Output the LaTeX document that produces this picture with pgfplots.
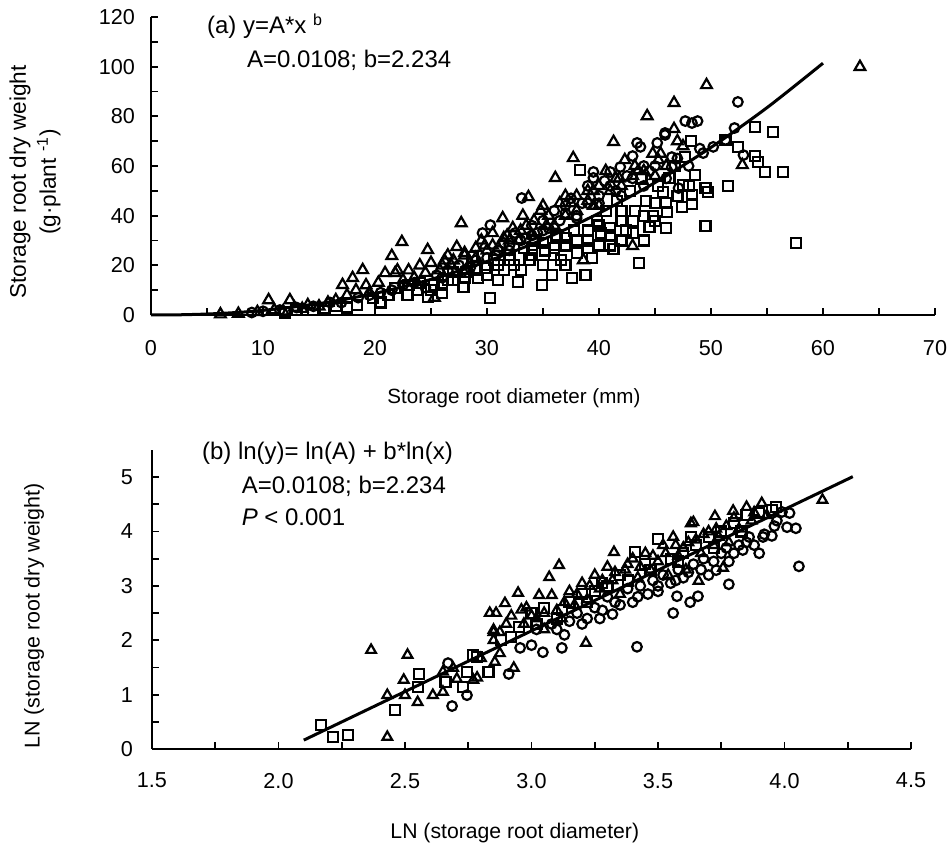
\documentclass[border=0pt]{standalone}
\usepackage{fontspec}
\setmainfont{Liberation Sans}
\usepackage{pgfplots}
\pgfplotsset{compat=1.18}

\pgfplotsset{
  rootaxis/.style={
    scale only axis,
    axis x line*=bottom, axis y line*=left,
    enlargelimits=false, clip=false,
    tick align=inside,
    major tick length=3.5pt, minor tick length=3.5pt,
    axis line style={line width=1.2pt},
    every tick/.style={line width=0.9pt, black},
    minor x tick num=1, minor y tick num=1,
    scaled ticks=false,
    /pgf/number format/assume math mode=true,
    tick label style={font=\fontsize{10.8}{12}\selectfont},
  },
  tri/.style={only marks, mark=triangle, mark size=3.1pt,
    mark options={line width=1.1pt, draw=black, fill=white}},
  cir/.style={only marks, mark=o, mark size=2.4pt,
    mark options={line width=1.1pt, draw=black, fill=white}},
  sqr/.style={only marks, mark=square, mark size=2.5pt,
    mark options={line width=1.1pt, draw=black, fill=white}},
}

\begin{document}
\begin{tikzpicture}
\path[use as bounding box] (-75.5pt,-264.5pt) rectangle (398.5pt,157.5pt);

% (a) power relation
\begin{axis}[rootaxis,
    at={(0,0)}, anchor=south west,
    width=392pt, height=149pt,
    xmin=0, xmax=70, ymin=0, ymax=120,
    xtick={0,10,...,70}, ytick={0,20,...,120},
    xticklabel style={yshift=-9pt},
    yticklabel style={xshift=-4.5pt},
    xlabel={Storage root diameter (mm)},
    every axis x label/.style={at={([yshift=-41.5pt]axis description cs:0.463,0)}, anchor=center, font=\fontsize{10.3}{12}\selectfont},
    ylabel={Storage root dry weight\\(g·plant \textsuperscript{-1})},
    every axis y label/.style={at={([xshift=-58pt]axis description cs:0,0.446)}, anchor=center, rotate=90, align=center, font=\fontsize{11.3}{15}\selectfont},
  ]
  \addplot[tri] coordinates {
    (6.2,0.3) (7.8,0.5) (9.5,1.2) (10.5,6.0) (11,2) (11.8,1.5) (12.4,6.0) (12.8,3)
    (13.5,2.5) (14,4) (15,3.5) (15.8,5) (16.5,6) (17.1,12.1) (17.5,8) (18,14.9)
    (18.3,10) (18.9,18.1) (19.2,12) (19.5,9) (20.3,13) (20.9,16.9) (21.5,23.8)
    (21.8,16.9) (22,18) (22.4,29.4) (22.5,14) (23,18) (23.5,15) (24,20) (24.5,17)
    (24.7,26.2) (25,21) (25.3,7) (25.8,18) (26,20) (26.2,22) (26.5,24) (26.8,20)
    (27,22) (27.3,27.4) (27.7,37.0) (28,24) (28,25) (28.5,21) (29,27) (29,23)
    (29.5,30) (29.8,28) (30,26) (30.5,28) (30.5,33) (31,27) (31.4,39) (31.5,31)
    (31.8,32) (32,30) (32.3,35) (32.8,30) (33,34) (33.2,40) (33.5,36) (33.7,47.5)
    (34,32) (34.2,38) (34.8,42) (35,44) (35.3,36) (35.5,40) (36,36) (36.1,55.2)
    (36.5,45) (37,40) (37,48) (37.5,45) (37.7,63.2) (38,48) (38,42) (38.6,22.1)
    (39,50) (39,46) (39.5,44) (39.5,50) (40,52) (40,44) (40.6,58) (41,50) (41.3,69.7)
    (41.5,55) (41.8,55) (42,52) (42.3,62.4) (43,27.8) (43,56) (43.2,60) (43.5,58)
    (44,58) (44.3,80.1) (44.8,65) (45,56) (45.3,62.4) (45.5,65) (46,60) (46.7,85.4)
    (46.7,74.9) (47,70) (47.5,68) (49.6,92.6) (52.8,60.4) (63.3,99.9)
  };
  \addplot[cir] coordinates {
    (9,1) (10,1.5) (11.5,2) (13,3) (14.5,3.5) (16,5) (17,5) (18.5,7) (19.5,8)
    (20.5,9) (21.5,10) (22.5,12) (23.5,13) (24.5,11) (25.5,16) (26,15) (26.5,18)
    (27.5,20) (28,18) (28.5,19) (29,22) (29.6,33.0) (30,23) (30.3,36.2) (30.8,24)
    (31,26) (31.5,29) (32,26) (32,28) (32.5,33) (33,30) (33.1,47.1) (33.5,31)
    (34,36) (34,32) (34.5,33) (35,38) (35,34) (35.5,35) (36,42) (36,35) (36.5,38)
    (37,44) (37,41) (37.5,47) (38,40) (38,39) (38.5,45) (39,52) (39,45) (39.5,57.6)
    (39.5,55.2) (40,48) (40,45) (40.5,54) (41,57.6) (41,52) (41.5,50) (41.9,59.6)
    (42,48) (42.5,56) (43,64) (43,55) (43.4,69.3) (43.7,67.7) (44,60) (44,52)
    (44.5,58) (45,60) (45.2,69.3) (45.9,73.3) (45.9,72.5) (46,55) (46.5,63.6)
    (46.5,59.6) (47,63) (47.1,51.1) (47.7,78.1) (48,60) (48.3,77.3) (48.8,78.1)
    (49,67) (49.3,65.2) (50.2,67.7) (51.3,70.5) (52.1,75.3) (52.4,85.8) (52.9,64.4)
  };
  \addplot[sqr] coordinates {
    (12,1) (13,2) (14.5,2.0) (15.5,2.8) (16.5,3.5) (17.5,3) (18.4,4.0) (19.8,6.8)
    (20.5,5) (21.2,8) (21.8,10.9) (22.9,8.1) (23,12.1) (23.8,10) (24,13) (24.7,7.3)
    (25,10) (25.3,12) (26,9) (26,12) (26.5,14) (27,17.3) (27,14) (27.9,11.3)
    (28,15) (28.2,17.3) (28.7,23.4) (29,18) (29.2,15) (29.8,19) (30,16) (30,19)
    (30.3,6.8) (30.6,22) (31,14) (31,20) (31.5,18) (32,24) (32,22) (32.4,20)
    (32.8,13.3) (33,18) (33.3,27) (33.8,22) (34,24) (34,27) (34.3,30) (34.9,12.1)
    (35,20) (35,29) (35.2,26) (35.8,16.1) (36,27) (36,24) (36.2,32) (36.6,22)
    (37,28) (37,20) (37,31) (37.6,14.9) (37.8,34) (38,25) (38,30) (38.3,58.4)
    (38.8,16.1) (39,30) (39,34) (39,27) (39.4,23.0) (39.8,38) (40,28) (40,36)
    (40.2,33) (40.6,42) (41,28) (41,35) (41,32) (41.3,26.6) (41.6,46) (42,38)
    (42,30) (42,42) (42.4,34) (42.8,50) (43,38) (43,33) (43.2,42) (43.6,20.9)
    (43.8,55) (44,30) (44,40) (44.2,46) (44.5,35.4) (44.8,40) (45,45) (45,38)
    (45.3,52) (45.7,49.5) (46,35) (46,45) (46.1,41.5) (46.3,55.2) (46.8,60) (47,48)
    (47.4,43.5) (47.5,52.4) (47.7,63.6) (48,52) (48.2,70.1) (48.3,48.3) (48.3,44.7)
    (48.6,56.4) (49.5,51.1) (49.5,35.8) (49.7,49.5) (51.3,70.5) (51.5,52.0)
    (52.4,67.7) (53.9,75.7) (53.9,64.0) (54.2,61.6) (54.8,57.6) (55.5,73.7)
    (56.4,57.6) (57.6,29.0)
  };
  \addplot[black, line width=1.5pt, smooth] coordinates {
    (0,0) (2.5,0.08) (5,0.39) (7.5,0.97) (10,1.85) (15,4.58) (20,8.71) (25,14.34)
    (30,21.56) (35,30.41) (40,40.99) (45,53.32) (50,67.48) (55,83.49) (60,101.4)
  };
  \node[anchor=base west, font=\fontsize{12}{14}\selectfont] at (axis description cs:0.0625,0.943) {(a) y=A*x \textsuperscript{b}};
  \node[anchor=base west, font=\fontsize{12}{14}\selectfont] at (axis description cs:0.1135,0.832) {A=0.0108; b=2.234};
\end{axis}

% (b) log-log relation
\begin{axis}[rootaxis,
    at={(0.5pt,-217pt)}, anchor=south west,
    width=379.5pt, height=149.5pt,
    xmin=1.5, xmax=4.5, ymin=0, ymax=5.5,
    xtick={1.5,2.0,...,4.5}, ytick={0,1,...,5},
    xticklabel style={yshift=-8.5pt, /pgf/number format/.cd, fixed, fixed zerofill, precision=1},
    yticklabel style={xshift=-6pt},
    xlabel={LN (storage root diameter)},
    every axis x label/.style={at={([yshift=-42pt]axis description cs:0.478,0)}, anchor=center, font=\fontsize{10.6}{12}\selectfont},
    ylabel={LN (storage root dry weight)},
    every axis y label/.style={at={([xshift=-59pt]axis description cs:0,0.445)}, anchor=center, rotate=90, font=\fontsize{10.7}{12}\selectfont},
  ]
  \addplot[sqr] coordinates {
    (2.167,0.44) (2.215,0.22) (2.275,0.26) (2.46,0.72) (2.55,1.14) (2.555,1.38)
    (2.66,1.23) (2.73,1.14) (2.745,1.42) (2.77,1.73) (2.785,1.69) (2.83,1.42)
    (2.88,2.0) (2.92,2.06) (2.95,2.25) (3.0,2.5) (3.02,2.3) (3.05,2.6) (3.1,2.4)
    (3.12,2.55) (3.15,2.7) (3.2,2.85) (3.22,2.7) (3.25,2.9) (3.28,3.05) (3.3,3.0)
    (3.35,3.2) (3.38,3.1) (3.41,3.62) (3.45,3.4) (3.47,3.3) (3.5,3.86) (3.55,3.5)
    (3.58,3.45) (3.6,3.6) (3.63,3.9) (3.65,3.75) (3.7,3.9) (3.72,3.7) (3.75,4.0)
    (3.8,4.15) (3.83,4.0) (3.85,4.3) (3.9,4.35) (3.95,4.4) (3.966,4.45)
  };
  \addplot[cir] coordinates {
    (2.67,1.58) (2.686,0.79) (2.745,0.99) (2.91,1.38) (2.955,1.86) (3.0,1.91)
    (3.02,2.2) (3.045,1.78) (3.08,2.3) (3.1,2.2) (3.12,1.86) (3.13,2.10) (3.15,2.35)
    (3.18,2.5) (3.2,2.3) (3.22,2.4) (3.25,2.6) (3.27,2.4) (3.28,2.55) (3.3,2.8)
    (3.32,2.48) (3.33,2.7) (3.35,2.65) (3.38,2.95) (3.4,2.7) (3.417,1.88) (3.42,2.8)
    (3.43,3.0) (3.46,2.85) (3.48,3.1) (3.5,2.9) (3.5,3.0) (3.52,3.2) (3.55,3.05)
    (3.56,2.50) (3.57,3.1) (3.575,2.81) (3.58,3.3) (3.6,3.15) (3.62,3.25)
    (3.627,2.70) (3.64,3.4) (3.658,2.81) (3.67,3.3) (3.68,3.5) (3.7,3.2) (3.72,3.45)
    (3.73,3.29) (3.75,3.6) (3.77,3.7) (3.78,3.03) (3.78,3.45) (3.8,3.6) (3.82,3.75)
    (3.835,3.66) (3.85,3.8) (3.86,3.9) (3.88,3.75) (3.9,3.6) (3.915,3.90) (3.92,3.95)
    (3.95,3.92) (3.96,4.1) (3.97,4.2) (3.99,4.36) (4.01,4.08) (4.02,4.34)
    (4.045,4.06) (4.057,3.36)
  };
  \addplot[tri, mark size=2.8pt] coordinates {
    (2.366,1.82) (2.43,0.22) (2.43,0.99) (2.495,1.27) (2.50,0.99) (2.51,1.73)
    (2.55,0.86) (2.61,0.99) (2.65,1.05) (2.65,1.42) (2.69,1.49) (2.705,1.29)
    (2.77,1.27) (2.785,1.31) (2.80,1.67) (2.835,2.5) (2.85,2.0) (2.85,2.15)
    (2.85,2.19) (2.855,1.60) (2.86,2.5) (2.875,1.76) (2.875,2.15) (2.895,2.68)
    (2.9,2.3) (2.92,2.45) (2.93,1.49) (2.947,2.87) (2.96,2.56) (2.97,2.3) (2.98,2.6)
    (3.0,2.45) (3.02,2.4) (3.03,2.83) (3.05,2.2) (3.05,2.5) (3.07,3.16) (3.08,2.83)
    (3.1,2.55) (3.109,3.38) (3.12,2.4) (3.13,2.7) (3.15,2.9) (3.17,2.65) (3.18,2.85)
    (3.2,3.05) (3.215,1.95) (3.22,2.75) (3.23,3.0) (3.25,3.2) (3.27,2.95) (3.28,3.1)
    (3.3,3.35) (3.32,3.1) (3.326,3.62) (3.33,3.25) (3.35,2.85) (3.37,3.3) (3.38,3.4)
    (3.4,3.5) (3.42,3.15) (3.43,3.35) (3.45,3.6) (3.47,3.3) (3.48,3.55) (3.5,3.45)
    (3.52,3.75) (3.53,3.6) (3.54,3.2) (3.56,3.9) (3.57,3.75) (3.58,3.55) (3.6,3.7)
    (3.61,3.3) (3.62,3.8) (3.63,4.15) (3.64,4.17) (3.65,3.85) (3.66,3.09) (3.67,3.6)
    (3.68,3.95) (3.7,4.0) (3.72,3.75) (3.725,4.28) (3.73,4.05) (3.74,3.9)
    (3.757,3.33) (3.77,4.1) (3.78,3.8) (3.797,4.38) (3.8,4.25) (3.82,4.05)
    (3.85,4.45) (3.87,4.2) (3.88,4.35) (3.91,4.52) (3.93,4.3) (4.15,4.58)
  };
  \addplot[black, line width=1.5pt] coordinates {(2.1,0.163) (4.27,5.01)};
  \node[anchor=base west, font=\fontsize{12}{14}\selectfont] at (axis description cs:0.0567,0.967) {(b) ln(y)= ln(A) + b*ln(x)};
  \node[anchor=base west, font=\fontsize{12}{14}\selectfont] at (axis description cs:0.109,0.853) {A=0.0108; b=2.234};
  \node[anchor=base west, font=\fontsize{12}{14}\selectfont] at (axis description cs:0.109,0.749) {\textit{P} < 0.001};
\end{axis}
\end{tikzpicture}
\end{document}
